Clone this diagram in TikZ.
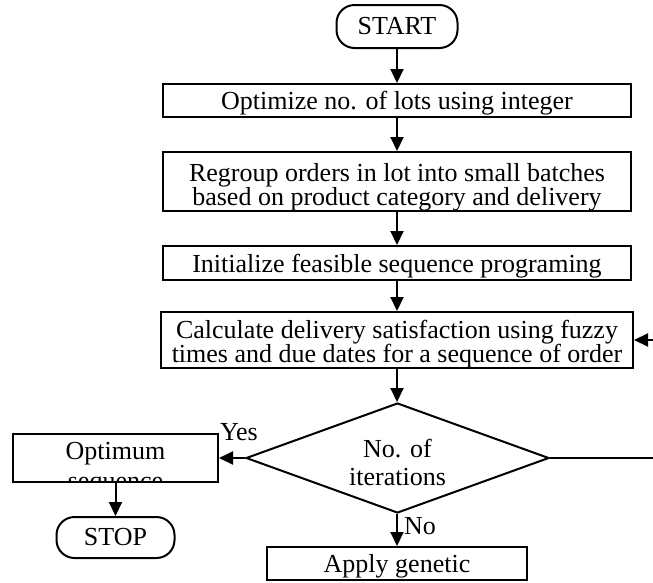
\documentclass[tikz,border=0pt]{standalone}
\usepackage{fontspec}
\setmainfont{Liberation Serif}
\usetikzlibrary{shapes.geometric,arrows.meta}

\begin{document}
\begin{tikzpicture}[x=1pt,y=-1pt,
  every node/.style={font=\fontsize{26}{24}\selectfont},
  stepbox/.style={draw,line width=2pt,rectangle,inner sep=0pt},
  boxtext/.style 2 args={path picture={\node[align=center] at ([shift={(#1)}]path picture bounding box.center) {#2};}},
  term/.style={draw,line width=2pt,rounded corners=18pt,minimum width=121pt,minimum height=43pt,inner sep=0pt},
  decision/.style={draw,line width=2pt,diamond,aspect=2.75,inner sep=0pt,minimum width=303pt,minimum height=110pt},
  flow/.style={line width=2pt,-{Triangle[length=14pt,width=13pt]}}]
\useasboundingbox (0,0) rectangle (653,582);
\node[term] (start) at (397,26.5) {START};
\node[stepbox,minimum width=468pt,minimum height=33pt,boxtext={0pt,-3pt}{Optimize no. of lots using integer}] (lots) at (397,100.5) {};
\node[stepbox,minimum width=468pt,minimum height=59pt,boxtext={0pt,-6pt}{Regroup orders in lot into small batches\\based on product category and delivery}] (batch) at (397,181.5) {};
\node[stepbox,minimum width=468pt,minimum height=34pt,boxtext={0pt,-3.5pt}{Initialize feasible sequence programing}] (init) at (397,263) {};
\node[stepbox,minimum width=472pt,minimum height=56pt,boxtext={0pt,-4.5pt}{Calculate delivery satisfaction using fuzzy\\times and due dates for a sequence of order}] (calc) at (397,340) {};
\node[decision] (iter) at (397.5,458) {};
\node[align=center] (itertext) at ([yshift=-4pt]iter.center) {No. of\\[4pt]iterations};
\node[stepbox,minimum width=205pt,minimum height=48pt,boxtext={0pt,-11pt}{Optimum\\[6pt]sequence}] (best) at (115.5,458) {};
\node[term,minimum width=118pt,minimum height=41pt] (stop) at (115.5,537.5) {STOP};
\node[stepbox,minimum width=260pt,minimum height=33pt,boxtext={0pt,-3pt}{Apply genetic}] (ga) at (397,563.5) {};
\coordinate (back) at (670,458);

% flow
\draw[flow] (start.south) -- (start |- lots.north);
\draw[flow] (start |- lots.south) -- (start |- batch.north);
\draw[flow] (start |- batch.south) -- (start |- init.north);
\draw[flow] (start |- init.south) -- (start |- calc.north);
\draw[flow] (start |- calc.south) -- (start |- iter.north);
\draw[flow] (start |- iter.south) -- node[pos=0.65,anchor=base west,xshift=6pt,inner sep=0pt] {No} (ga.north);
\draw[flow] (iter.west) -- node[pos=1,anchor=base west,yshift=18pt,inner sep=0pt] {Yes} (best.east);
\draw[flow] (best.south) -- (stop.north);
\draw[flow] (iter.east) -- (back) |- (calc.east);
\end{tikzpicture}
\end{document}
